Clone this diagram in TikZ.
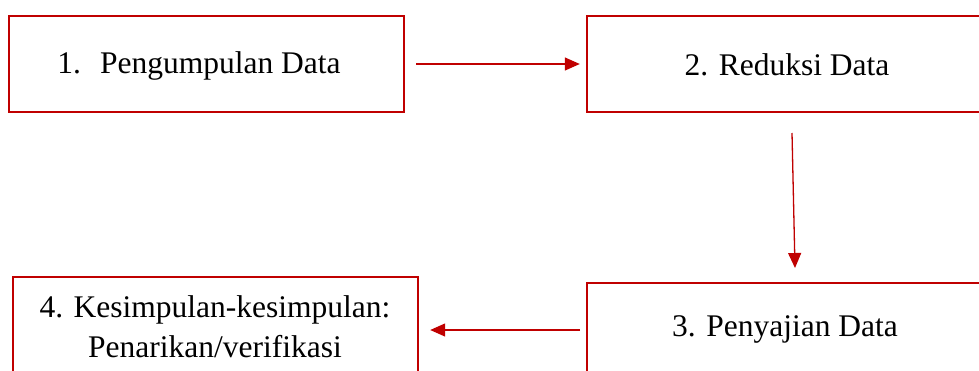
\documentclass[tikz,border=0pt]{standalone}
\usepackage{fontspec}
\setmainfont{Liberation Serif}
\usetikzlibrary{arrows.meta}
\definecolor{dred}{HTML}{C00000}
\tikzset{
  x=1pt,y=-1pt,
  box/.style={draw=dred, line width=2.4pt, rectangle, inner sep=0pt},
  txt/.style={font=\fontsize{31.5}{40}\selectfont, align=center, inner sep=0pt},
  conn/.style={draw=dred, line width=1.3pt, -{Triangle[length=15pt,width=13pt]}, color=dred}
}
\begin{document}
\begin{tikzpicture}
\useasboundingbox (0,0) rectangle (979,370);
\clip (0,0) rectangle (979,370);
\fill[white] (0,0) rectangle (979,370);
\node[box, minimum width=395pt, minimum height=96pt] (b1) at (206.5,64) {};
\node[box, minimum width=400pt, minimum height=96pt] (b2) at (787,64) {};
\node[box, minimum width=400pt, minimum height=100pt] (b3) at (787,333) {};
\node[box, minimum width=405pt, minimum height=106pt] (b4) at (215.5,330) {};
\node[txt] (t1) at (199,65.5) {1.\hspace{19pt}Pengumpulan Data};
\node[txt] (t2) at (787,65) {2. Reduksi Data};
\node[txt] (t3) at (785,329.5) {3. Penyajian Data};
\node[txt] (t4) at (215,327) {4. Kesimpulan-kesimpulan:\\Penarikan/verifikasi};
\coordinate (a1s) at ([xshift=11pt]b1.east);
\coordinate (a1e) at ([xshift=-6pt]b2.west);
\coordinate (a2s) at (792,133);
\coordinate (a2e) at (795,268);
\coordinate (a3s) at (580,330);
\coordinate (a3e) at ([xshift=11pt]b4.east);
\draw[conn] (a1s) -- (a1e);
\draw[conn] (a2s) -- (a2e);
\draw[conn] (a3s) -- (a3s -| a3e);
\end{tikzpicture}
\end{document}
